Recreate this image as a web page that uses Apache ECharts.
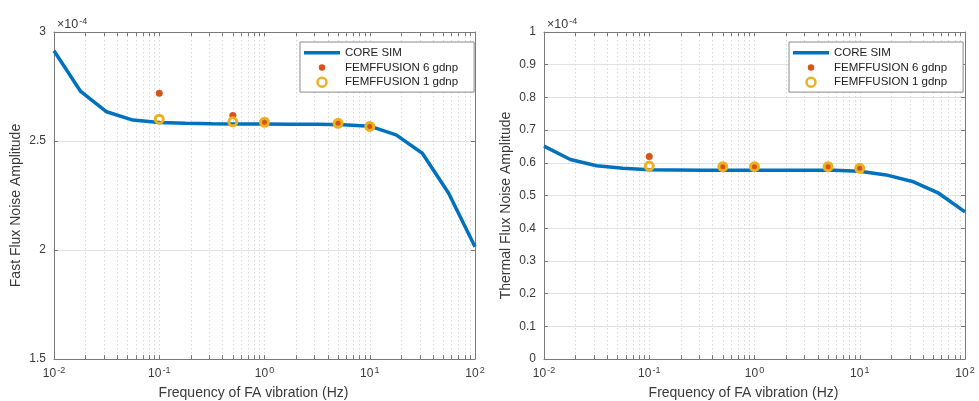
<!DOCTYPE html>
<html>
<head>
<meta charset="utf-8">
<script src="https://cdn.jsdelivr.net/npm/echarts@6/dist/echarts.min.js"></script>
<style>
html,body{margin:0;padding:0;background:#fff;}
#chart{width:979px;height:401px;}
</style>
</head>
<body>
<div id="chart"></div>
<script>
// Frequencies of the CORE SIM curve (Hz)
const coreFreq = [0.01, 0.0178, 0.0316, 0.0562, 0.1, 0.178, 0.316, 0.562, 1, 1.78, 3.16, 5.62, 10, 17.8, 31.6, 56.2, 100];
// Fast flux noise amplitude (x 1e-4)
const fastCore = [2.914, 2.729, 2.634, 2.596, 2.585, 2.581, 2.579, 2.578, 2.578, 2.577, 2.577, 2.575, 2.568, 2.528, 2.444, 2.260, 2.015];
// Thermal flux noise amplitude (x 1e-4)
const thermalCore = [0.651, 0.610, 0.591, 0.583, 0.579, 0.578, 0.577, 0.577, 0.577, 0.577, 0.577, 0.577, 0.574, 0.563, 0.543, 0.507, 0.450];
// FEMFFUSION frequencies (Hz)
const femFreq = [0.1, 0.5, 1, 5, 10];
const fast6 = [2.719, 2.617, 2.586, 2.581, 2.567];
const fast1 = [2.600, 2.588, 2.586, 2.581, 2.567];
const thermal6 = [0.619, 0.588, 0.588, 0.588, 0.583];
const thermal1 = [0.590, 0.588, 0.588, 0.588, 0.583];
// tick values
const xTicks = [0.01,0.02,0.03,0.04,0.05,0.06,0.07,0.08,0.09,0.1,0.2,0.3,0.4,0.5,0.6,0.7,0.8,0.9,1,2,3,4,5,6,7,8,9,10,20,30,40,50,60,70,80,90,100];
const xLabels = [0.01, 0.1, 1, 10, 100];
const seriesNames = ['CORE SIM', 'FEMFFUSION 6 gdnp', 'FEMFFUSION 1 gdnp'];

const FONT = "'Liberation Sans', Arial, Helvetica, sans-serif";
const C_BLUE = '#0072BD', C_RED = '#D95319', C_YEL = '#EDB120';
const AXIS_COLOR = '#7a7a7a', TEXT = '#3a3a3a';

const pairs = (xs, ys) => xs.map((x, i) => [x, ys[i]]);

function xAx(grid, bottom) {
  return {
    type: 'log', logBase: 10, min: 0.01, max: 100, gridIndex: grid,
    position: bottom ? 'bottom' : 'top',
    name: bottom ? 'Frequency of FA vibration (Hz)' : '',
    nameLocation: 'middle', nameGap: 27,
    nameTextStyle: {fontFamily: FONT, fontSize: 14, color: TEXT, padding: [0, 22, 0, 0]},
    axisLine: {show: true, onZero: false, lineStyle: {color: AXIS_COLOR, width: 1}},
    axisTick: {show: true, inside: true, length: 4, customValues: xTicks, lineStyle: {color: AXIS_COLOR}},
    axisLabel: {
      show: bottom, customValues: xLabels, margin: 7,
      fontFamily: FONT, fontSize: 12, color: TEXT,
      formatter: v => '10{s|' + Math.round(Math.log10(v)) + '}',
      rich: {s: {fontFamily: FONT, fontSize: 9, color: TEXT, padding: [0, 0, 7, 1]}}
    },
    splitLine: {show: bottom, lineStyle: {color: '#d9d9d9', type: [1.5, 2.5], width: 1}},
    minorTick: {show: false}, minorSplitLine: {show: false}
  };
}
function yAx(grid, left, min, max, interval, name, fmt) {
  return {
    type: 'value', min: min, max: max, interval: interval, gridIndex: grid,
    position: left ? 'left' : 'right',
    name: left ? name : '', nameLocation: 'middle', nameGap: 31, nameRotate: 90,
    nameTextStyle: {fontFamily: FONT, fontSize: 14, color: TEXT, padding: [0, 20, 0, 0]},
    axisLine: {show: true, onZero: false, lineStyle: {color: AXIS_COLOR, width: 1}},
    axisTick: {show: true, inside: true, length: 4, lineStyle: {color: AXIS_COLOR}},
    axisLabel: {show: left, margin: 8, fontFamily: FONT, fontSize: 12, color: TEXT, formatter: fmt},
    splitLine: {show: left, lineStyle: {color: '#e2e2e2', width: 1}}
  };
}
function legend(left) {
  return {
    left: left, top: 42, orient: 'vertical',
    padding: [4, 16, 3, 4], itemGap: 1, itemWidth: 36, itemHeight: 9,
    backgroundColor: '#fff', borderColor: '#8a8a8a', borderWidth: 1, borderRadius: 0,
    textStyle: {fontFamily: FONT, fontSize: 11.5, color: '#222', lineHeight: 13.7},
    selectedMode: false,
    data: [
      {name: seriesNames[0], icon: 'path://M0,0L36,0L36,3.5L0,3.5Z', itemStyle: {color: C_BLUE, borderWidth: 0}},
      {name: seriesNames[1], icon: 'circle', itemStyle: {color: C_RED, borderColor: '#fff', borderWidth: 2.5}},
      {name: seriesNames[2], icon: 'circle', itemStyle: {color: '#fff', borderColor: C_YEL, borderWidth: 2.5}}
    ]
  };
}
function seriesFor(grid, core, s6, s1) {
  const xi = grid * 2, yi = grid * 2;
  return [
    {name: seriesNames[0], type: 'line', xAxisIndex: xi, yAxisIndex: yi, data: pairs(coreFreq, core),
     symbol: 'none', lineStyle: {color: C_BLUE, width: 3.5}, itemStyle: {color: C_BLUE}, z: 3},
    {name: seriesNames[1], type: 'scatter', xAxisIndex: xi, yAxisIndex: yi, data: pairs(femFreq, s6),
     symbol: 'circle', symbolSize: 7, itemStyle: {color: C_RED, opacity: 1}, z: 4},
    {name: seriesNames[2], type: 'scatter', xAxisIndex: xi, yAxisIndex: yi, data: pairs(femFreq, s1),
     symbol: 'circle', symbolSize: 8, itemStyle: {color: 'rgba(0,0,0,0)', borderColor: C_YEL, borderWidth: 3, opacity: 1}, z: 5}
  ];
}
const titleRich = {s: {fontFamily: FONT, fontSize: 9, color: TEXT, padding: [0, 0, 7, 1]}};
const option = {
  animation: false,
  backgroundColor: '#fff',
  title: [
    {text: '×10{s|-4}', left: 52, top: 12, textStyle: {fontFamily: FONT, fontSize: 12.5, fontWeight: 'normal', color: TEXT, rich: titleRich}},
    {text: '×10{s|-4}', left: 542, top: 12, textStyle: {fontFamily: FONT, fontSize: 12.5, fontWeight: 'normal', color: TEXT, rich: titleRich}}
  ],
  grid: [
    {left: 54, right: 504, top: 32, bottom: 42, containLabel: false, outerBoundsMode: 'none'},
    {left: 544, right: 14, top: 32, bottom: 42, containLabel: false, outerBoundsMode: 'none'}
  ],
  legend: [legend(300), legend(789)],
  xAxis: [xAx(0, true), xAx(0, false), xAx(1, true), xAx(1, false)],
  yAxis: [
    yAx(0, true, 1.5, 3, 0.5, 'Fast Flux Noise Amplitude', v => String(v)),
    yAx(0, false, 1.5, 3, 0.5, '', v => String(v)),
    yAx(1, true, 0, 1, 0.1, 'Thermal Flux Noise Amplitude', v => (v === 0 || v === 1) ? String(v) : v.toFixed(1)),
    yAx(1, false, 0, 1, 0.1, '', v => String(v))
  ],
  series: [].concat(seriesFor(0, fastCore, fast6, fast1), seriesFor(1, thermalCore, thermal6, thermal1))
};
const chart = echarts.init(document.getElementById('chart'), null, {renderer: 'canvas'});
chart.setOption(option);
</script>
</body>
</html>
